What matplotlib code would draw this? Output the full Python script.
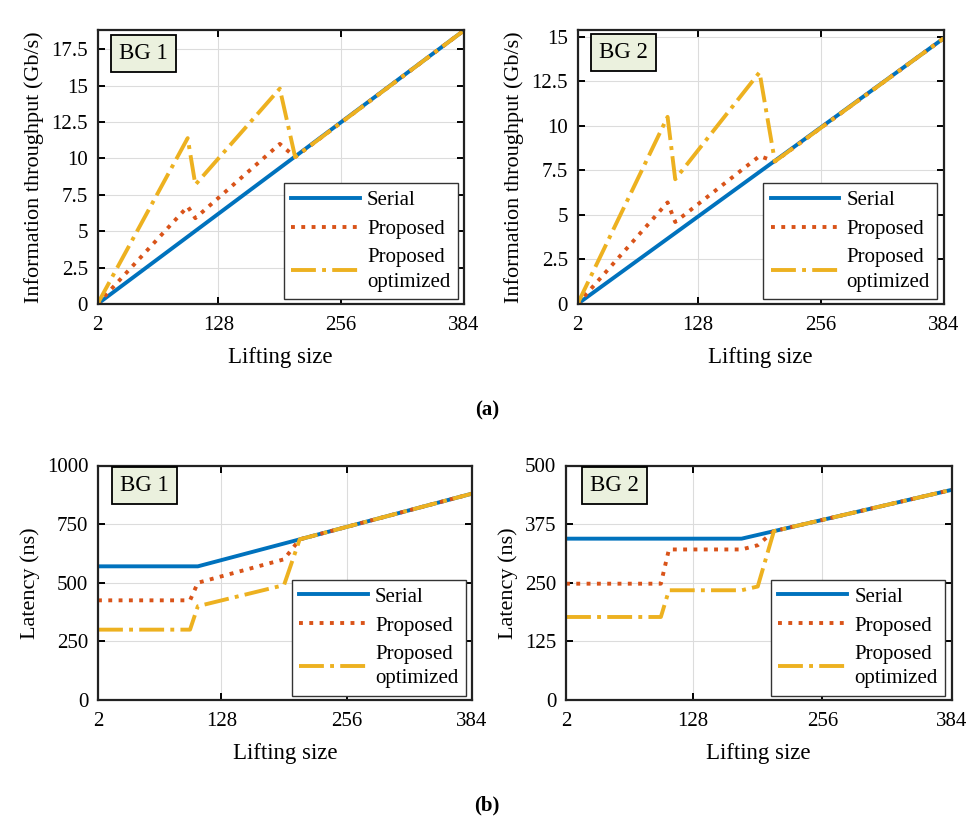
"""
Throughput and latency vs lifting size, BG1 / BG2 panels.
"""

import matplotlib
matplotlib.use('Agg')
import matplotlib.pyplot as plt

plt.rcParams['font.family'] = ['Liberation Serif', 'DejaVu Serif']
plt.rcParams['mathtext.fontset'] = 'stix'

# --- data ---
x_ticks = [2, 128, 256, 384]
series_names = ['Serial', 'Proposed', 'Proposed\noptimized']

# (a) information throughput (Gb/s)
thr_x_serial = [2, 384]
thr_x_prop   = [2, 96, 104, 192, 208, 384]
thr_bg1_serial = [0.0, 18.8]
thr_bg1_prop   = [0.0, 6.7, 5.9, 11.0, 10.1, 18.8]
thr_bg1_opt    = [0.0, 11.4, 8.2, 14.8, 10.1, 18.8]
thr_bg2_serial = [0.0, 14.9]
thr_bg2_prop   = [0.0, 5.7, 4.6, 8.3, 8.0, 14.9]
thr_bg2_opt    = [0.0, 10.5, 7.0, 13.0, 8.0, 14.9]
thr_bg1_yticks = [0, 2.5, 5, 7.5, 10, 12.5, 15, 17.5]
thr_bg1_ylabels = ['0', '2.5', '5', '7.5', '10', '12.5', '15', '17.5']
thr_bg2_yticks = [0, 2.5, 5, 7.5, 10, 12.5, 15]
thr_bg2_ylabels = ['0', '2.5', '5', '7.5', '10', '12.5', '15']

# (b) latency (ns)
lat_bg1_x_serial = [2, 104, 208, 384]
lat_bg1_serial   = [570, 570, 685, 880]
lat_bg1_x_prop   = [2, 96, 104, 192, 208, 384]
lat_bg1_prop     = [425, 425, 500, 600, 685, 880]
lat_bg1_opt      = [300, 300, 400, 490, 685, 880]
lat_bg2_x_serial = [2, 176, 208, 384]
lat_bg2_serial   = [344, 344, 360, 448]
lat_bg2_x_prop   = [2, 96, 104, 176, 192, 208, 384]
lat_bg2_prop     = [248, 248, 321, 321, 330, 360, 448]
lat_bg2_opt      = [177, 177, 234, 234, 242, 360, 448]
lat_bg1_yticks = [0, 250, 500, 750, 1000]
lat_bg2_yticks = [0, 125, 250, 375, 500]

COLORS = ['#0072BD', '#D95319', '#EDB120']
STYLES = ['-', ':', '-.']
LW = 2.8

W, H = 973, 823
fig = plt.figure(figsize=(W / 100, H / 100), dpi=100)


def add_axes(left, right, top, bottom):
    return fig.add_axes([left / W, 1 - bottom / H, (right - left) / W, (bottom - top) / H])


def style_axes(ax, ylim, yticks, ylabels, ylabel, tag):
    ax.set_xlim(2, 384)
    ax.set_ylim(*ylim)
    ax.set_xticks(x_ticks)
    ax.set_yticks(yticks)
    ax.set_yticklabels(ylabels)
    ax.tick_params(direction='in', length=5, width=1.4, labelsize=15,
                   top=True, right=True, pad=7)
    ax.tick_params(axis='x', pad=9)
    for sp in ax.spines.values():
        sp.set_linewidth(1.6)
        sp.set_color('#222222')
    ax.grid(True, color='#dcdcdc', linewidth=0.8)
    ax.set_axisbelow(True)
    ax.set_xlabel('Lifting size', fontsize=16.5, labelpad=8)
    ax.set_ylabel(ylabel, fontsize=16, labelpad=5)
    ax.text(0.125, 0.915, tag, transform=ax.transAxes, fontsize=16.5,
            ha='center', va='center',
            bbox=dict(boxstyle='square,pad=0.35', facecolor='#EBF1DE',
                      edgecolor='black', linewidth=1.3))
    leg = ax.legend(loc='lower right', bbox_to_anchor=(0.983, 0.018),
                    borderaxespad=0, fontsize=15, handlelength=3.3,
                    fancybox=False, framealpha=1, edgecolor='#333333',
                    labelspacing=0.45, borderpad=0.35, handletextpad=0.35)
    leg.get_frame().set_linewidth(1.0)
    leg.get_texts()[2].set_linespacing(1.4)


def draw(ax, xs, ys):
    for x, y, c, ls, name in zip(xs, ys, COLORS, STYLES, series_names):
        ax.plot(x, y, color=c, linestyle=ls, linewidth=LW, label=name)


# (a) throughput
ax = add_axes(97.5, 464, 30, 304)
draw(ax, [thr_x_serial, thr_x_prop, thr_x_prop],
     [thr_bg1_serial, thr_bg1_prop, thr_bg1_opt])
style_axes(ax, (0, 18.83), thr_bg1_yticks, thr_bg1_ylabels,
           'Information throughput (Gb/s)', 'BG 1')

ax = add_axes(577.5, 943.5, 29.5, 304)
draw(ax, [thr_x_serial, thr_x_prop, thr_x_prop],
     [thr_bg2_serial, thr_bg2_prop, thr_bg2_opt])
style_axes(ax, (0, 15.4), thr_bg2_yticks, thr_bg2_ylabels,
           'Information throughput (Gb/s)', 'BG 2')

# (b) latency
ax = add_axes(98, 472, 465.5, 700)
draw(ax, [lat_bg1_x_serial, lat_bg1_x_prop, lat_bg1_x_prop],
     [lat_bg1_serial, lat_bg1_prop, lat_bg1_opt])
style_axes(ax, (0, 1000), lat_bg1_yticks, [str(v) for v in lat_bg1_yticks],
           'Latency (ns)', 'BG 1')

ax = add_axes(566, 951.5, 465.5, 700)
draw(ax, [lat_bg2_x_serial, lat_bg2_x_prop, lat_bg2_x_prop],
     [lat_bg2_serial, lat_bg2_prop, lat_bg2_opt])
style_axes(ax, (0, 500), lat_bg2_yticks, [str(v) for v in lat_bg2_yticks],
           'Latency (ns)', 'BG 2')

fig.text(487 / W, 1 - 410 / H, '(a)', fontsize=15, fontweight='bold',
         ha='center', va='center')
fig.text(487 / W, 1 - 805 / H, '(b)', fontsize=15, fontweight='bold',
         ha='center', va='center')

fig.savefig('out.png', dpi=100)
